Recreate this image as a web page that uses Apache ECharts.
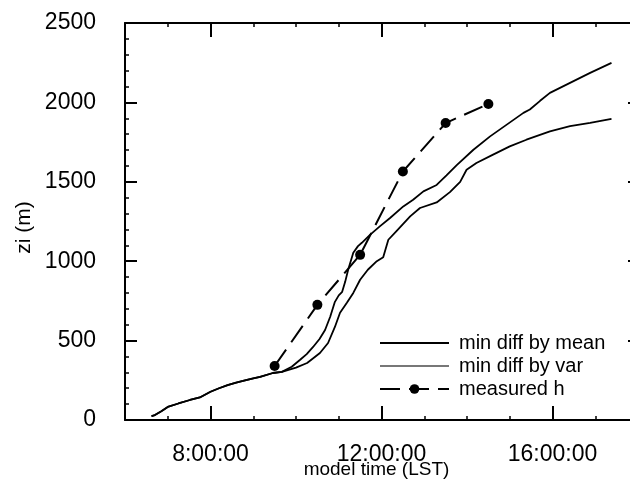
<!DOCTYPE html>
<html>
<head>
<meta charset="utf-8">
<script src="https://cdn.jsdelivr.net/npm/echarts@6/dist/echarts.min.js"></script>
<style>html,body{margin:0;padding:0;background:#fff}#c{width:630px;height:483px}</style>
</head>
<body>
<div id="c"></div>
<script>
// time in decimal hours (LST)
const commonTime = [6.62, 6.7, 6.85, 7.0, 7.25, 7.52, 7.75, 8.0, 8.2, 8.4, 8.6, 8.76, 9.0, 9.16, 9.46, 9.67];
const commonZi   = [25, 31, 55, 82, 104, 126, 142, 178, 200, 220, 236, 246, 262, 271, 296, 303];

const meanTime = [9.9, 10.09, 10.25, 10.4, 10.55, 10.68, 10.8, 10.91, 11.0, 11.08, 11.15, 11.22, 11.34, 11.45, 11.54, 11.73, 11.96, 12.2, 12.51, 12.74, 12.98, 13.29, 13.52, 13.76, 14.15, 14.54, 14.93, 15.32, 15.47, 15.71, 15.94, 16.41, 16.88, 17.38];
const meanZi   = [335, 378, 415, 460, 510, 567, 650, 744, 785, 807, 870, 946, 1053, 1095, 1116, 1166, 1219, 1272, 1345, 1387, 1440, 1480, 1540, 1605, 1702, 1786, 1860, 1934, 1955, 2010, 2060, 2123, 2186, 2249];

const varTime = [10.0, 10.26, 10.56, 10.75, 10.91, 11.03, 11.19, 11.34, 11.5, 11.68, 11.89, 12.04, 12.16, 12.35, 12.67, 12.9, 13.29, 13.6, 13.84, 13.99, 14.22, 14.61, 15.0, 15.39, 15.94, 16.41, 16.88, 17.38];
const varZi   = [330, 359, 422, 485, 586, 675, 738, 800, 883, 946, 1000, 1025, 1135, 1190, 1282, 1335, 1370, 1435, 1500, 1576, 1618, 1671, 1723, 1765, 1818, 1850, 1871, 1896];

const measTime = [9.5, 10.5, 11.5, 12.5, 13.5, 14.5];
const measZi   = [340, 725, 1040, 1565, 1870, 1990];

// hourly tick positions of the time axis, labels shown only at the major ones
const hourTicks = ['6:00:00', '7:00:00', '8:00:00', '9:00:00', '10:00:00', '11:00:00', '12:00:00',
                   '13:00:00', '14:00:00', '15:00:00', '16:00:00', '17:00:00', '18:00:00'];
const majorTickLabels = ['8:00:00', '12:00:00', '16:00:00'];
const seriesNames = ['min diff by mean', 'min diff by var', 'measured h'];

function pairs(t, v) { return t.map((x, i) => [x, v[i]]); }
const meanData = pairs(commonTime, commonZi).concat(pairs(meanTime, meanZi));
const varData = pairs(commonTime, commonZi).concat(pairs(varTime, varZi));
const measData = pairs(measTime, measZi);

const FONT = 'Liberation Sans';
const black = '#000';
const isMajor = (idx) => majorTickLabels.indexOf(hourTicks[idx]) >= 0;

const chart = echarts.init(document.getElementById('c'), null, {renderer: 'canvas'});

const minorX = (pos) => ({
  type: 'value', min: 6, max: 18, interval: 1, position: pos,
  splitLine: {show: false},
  axisLine: {show: true, lineStyle: {color: black, width: 2}},
  axisTick: {show: true, inside: true, length: 4, lineStyle: {color: black, width: 1.5}},
  axisLabel: {show: false}
});
const majorX = (pos) => ({
  type: 'category', data: hourTicks, boundaryGap: false, position: pos,
  splitLine: {show: false},
  axisLine: {show: false},
  axisTick: {show: true, inside: true, length: 14, interval: isMajor, lineStyle: {color: black, width: 2}},
  axisLabel: {show: false}
});

const xBottomMajor = majorX('bottom');
Object.assign(xBottomMajor, {
  name: 'model time (LST)', nameLocation: 'middle', nameGap: 40, nameMoveOverlap: false,
  nameTextStyle: {fontFamily: FONT, fontSize: 19, color: black, padding: [0, 10, 0, 0]},
  axisLabel: {show: true, interval: isMajor, margin: 23, fontFamily: FONT, fontSize: 23, color: black}
});

chart.setOption({
  backgroundColor: '#fff',
  animation: false,
  grid: {left: 125, width: 513, top: 23, height: 397, outerBoundsMode: 'none'},
  legend: {
    orient: 'vertical', left: 379, top: 333, padding: 0,
    itemWidth: 69, itemHeight: 12, itemGap: 3,
    textStyle: {fontFamily: FONT, fontSize: 20, color: black, padding: [0, 0, 0, 5]},
    data: [
      {name: seriesNames[0], itemStyle: {opacity: 0}},
      {name: seriesNames[1], itemStyle: {opacity: 0}, lineStyle: {color: '#777'}},
      {name: seriesNames[2]}
    ]
  },
  xAxis: [minorX('bottom'), xBottomMajor, minorX('top'), majorX('top')],
  yAxis: [
    {
      type: 'value', position: 'left', min: 0, max: 2500, interval: 500,
      name: 'zi (m)', nameLocation: 'middle', nameGap: 90, nameRotate: 90, nameMoveOverlap: false,
      nameTextStyle: {fontFamily: FONT, fontSize: 21, color: black, padding: [0, 12, 0, 0]},
      splitLine: {show: false},
      axisLine: {show: true, lineStyle: {color: black, width: 2}},
      axisTick: {show: true, inside: true, length: 12, lineStyle: {color: black, width: 2}},
      minorTick: {show: true, splitNumber: 5, length: 4, lineStyle: {color: black, width: 1.5}},
      axisLabel: {margin: 29, fontFamily: FONT, fontSize: 23, color: black, formatter: v => String(v)}
    },
    {
      type: 'value', position: 'right', min: 0, max: 2500, interval: 500,
      splitLine: {show: false},
      axisLine: {show: true, lineStyle: {color: black, width: 2}},
      axisTick: {show: true, inside: true, length: 10, lineStyle: {color: black, width: 2}},
      minorTick: {show: true, splitNumber: 5, length: 4, lineStyle: {color: black, width: 1.5}},
      axisLabel: {show: false}
    }
  ],
  series: [
    {name: seriesNames[0], type: 'line', data: meanData, xAxisIndex: 0, yAxisIndex: 0, symbol: 'none',
      lineStyle: {color: black, width: 1.8}, itemStyle: {color: black}},
    {name: seriesNames[1], type: 'line', data: varData, xAxisIndex: 0, yAxisIndex: 0, symbol: 'none',
      lineStyle: {color: black, width: 1.8}, itemStyle: {color: '#777'}},
    {name: seriesNames[2], type: 'line', data: measData, xAxisIndex: 0, yAxisIndex: 0, symbol: 'circle', symbolSize: 10,
      lineStyle: {color: black, width: 2, type: [20, 9]}, itemStyle: {color: black}}
  ]
});
</script>
</body>
</html>
